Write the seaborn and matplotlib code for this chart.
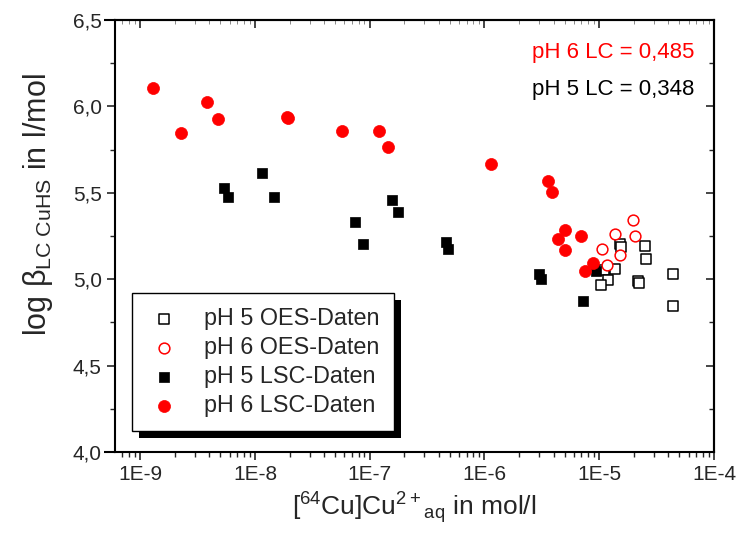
import numpy as np
import pandas as pd
import matplotlib
matplotlib.use('Agg')
import matplotlib.pyplot as plt
import matplotlib.ticker as mticker
from matplotlib.patches import Rectangle
import seaborn as sns

# pH 6 LSC (filled red circles)
ph6_lsc_cu = [1.3e-9, 2.28e-9, 3.8e-9, 4.77e-9, 1.9e-8, 1.92e-8, 5.7e-8, 1.2e-7, 1.43e-7,
              1.15e-6, 3.6e-6, 3.9e-6, 5.06e-6, 4.4e-6, 7.0e-6, 5.06e-6, 8.9e-6, 7.55e-6]
ph6_lsc_logb = [6.107, 5.846, 6.025, 5.927, 5.939, 5.93, 5.858, 5.858, 5.765,
                5.667, 5.568, 5.505, 5.285, 5.233, 5.25, 5.169, 5.094, 5.047]

# pH 5 LSC (filled black squares)
ph5_lsc_cu = [5.4e-9, 5.8e-9, 1.15e-8, 1.46e-8, 7.4e-8, 8.7e-8, 1.55e-7, 1.75e-7,
              4.6e-7, 4.77e-7, 3.0e-6, 3.13e-6, 7.26e-6, 9.4e-6]
ph5_lsc_logb = [5.528, 5.476, 5.615, 5.476, 5.331, 5.204, 5.458, 5.389,
                5.215, 5.175, 5.03, 5.001, 4.874, 5.047]

# pH 5 OES (open black squares)
ph5_oes_cu = [1.52e-5, 1.55e-5, 2.5e-5, 2.56e-5, 1.38e-5, 1.1e-5, 1.2e-5, 1.04e-5,
              2.18e-5, 2.2e-5, 4.4e-5, 4.4e-5]
ph5_oes_logb = [5.204, 5.186, 5.192, 5.117, 5.059, 5.053, 4.995, 4.967,
                4.99, 4.978, 5.03, 4.845]

# pH 6 OES (open red circles)
ph6_oes_cu = [1.98e-5, 1.38e-5, 2.06e-5, 1.06e-5, 1.52e-5, 1.17e-5]
ph6_oes_logb = [5.343, 5.262, 5.25, 5.175, 5.14, 5.082]

x_ticks = [1e-9, 1e-8, 1e-7, 1e-6, 1e-5, 1e-4]
x_ticklabels = ['1E-9', '1E-8', '1E-7', '1E-6', '1E-5', '1E-4']
y_ticks = [4.0, 4.5, 5.0, 5.5, 6.0, 6.5]
y_ticklabels = ['4,0', '4,5', '5,0', '5,5', '6,0', '6,5']
lc_labels = ['pH 6 LC = 0,485', 'pH 5 LC = 0,348']

sns.set_style('ticks')
plt.rcParams['font.family'] = ['Liberation Sans', 'DejaVu Sans']
plt.rcParams['mathtext.fontset'] = 'custom'
plt.rcParams['mathtext.rm'] = 'Liberation Sans'
plt.rcParams['mathtext.it'] = 'Liberation Sans'

fig = plt.figure(figsize=(7.4, 5.34), dpi=100)
ax = fig.add_axes([115 / 740, 1 - 452 / 534, (714 - 115) / 740, (452 - 20) / 534])

sns.scatterplot(x=ph5_oes_cu, y=ph5_oes_logb, marker='s', s=50, facecolor='white',
                edgecolor='black', linewidth=1.1, label='pH 5 OES-Daten', ax=ax, zorder=3)
sns.scatterplot(x=ph6_oes_cu, y=ph6_oes_logb, marker='o', s=60, facecolor='white',
                edgecolor='red', linewidth=1.1, label='pH 6 OES-Daten', ax=ax, zorder=3)
sns.scatterplot(x=ph5_lsc_cu, y=ph5_lsc_logb, marker='s', s=50, color='black',
                edgecolor='black', linewidth=0.5, label='pH 5 LSC-Daten', ax=ax, zorder=4)
sns.scatterplot(x=ph6_lsc_cu, y=ph6_lsc_logb, marker='o', s=75, color='red',
                edgecolor='red', linewidth=0.5, label='pH 6 LSC-Daten', ax=ax, zorder=4)

ax.set_xscale('log')
ax.set_xlim(10 ** -9.22, 1e-4)
ax.set_ylim(4.0, 6.5)

ax.set_xticks(x_ticks, x_ticklabels)
ax.xaxis.set_minor_locator(mticker.LogLocator(base=10, subs=np.arange(2, 10), numticks=10))
ax.xaxis.set_minor_formatter(mticker.NullFormatter())
ax.set_yticks(y_ticks, y_ticklabels)
ax.yaxis.set_minor_locator(mticker.MultipleLocator(0.25))

ax.tick_params(which='major', direction='out', length=6, width=1.2, labelsize=15)
ax.tick_params(which='minor', direction='out', length=3.5, width=1.0)
for sp in ax.spines.values():
    sp.set_linewidth(1.5)
    sp.set_color('black')

# top and bottom axis lines run a little past the left spine
for yy in (0, 1):
    ax.plot([-0.019, 0], [yy, yy], color='black', lw=1.5, transform=ax.transAxes,
            clip_on=False, solid_capstyle='butt')

# mirrored ticks on top/right, pointing in
top = ax.secondary_xaxis('top')
top.set_xscale('log')
top.set_xticks(x_ticks, [''] * len(x_ticks))
top.xaxis.set_minor_locator(mticker.LogLocator(base=10, subs=np.arange(2, 10), numticks=10))
top.xaxis.set_minor_formatter(mticker.NullFormatter())
top.tick_params(which='major', direction='in', length=6, width=1.2, labeltop=False)
top.tick_params(which='minor', direction='in', length=3, width=0.6, color='#777777', labeltop=False)
top.spines['top'].set_linewidth(1.5)
right = ax.secondary_yaxis('right')
right.set_yticks(y_ticks, [''] * len(y_ticks))
right.yaxis.set_minor_locator(mticker.MultipleLocator(0.25))
right.tick_params(which='major', direction='in', length=6, width=1.2, labelright=False)
right.tick_params(which='minor', direction='in', length=3.5, width=1.0, labelright=False)
right.spines['right'].set_linewidth(1.5)

ax.set_xlabel(r'[$^{64}$Cu]Cu$^{2+}$$_{\rm aq}$ in mol/l', fontsize=19, labelpad=4)
ax.set_ylabel(r'log $\beta_{\rm LC\ CuHS}$ in l/mol', fontsize=22)
ax.yaxis.set_label_coords(-0.10, 0.572)

ax.text(0.968, 0.925, lc_labels[0], transform=ax.transAxes, ha='right', va='center',
        fontsize=16, color='red')
ax.text(0.968, 0.84, lc_labels[1], transform=ax.transAxes, ha='right', va='center',
        fontsize=16, color='black')

leg = ax.legend(loc='upper left', bbox_to_anchor=(0.028, 0.368), frameon=True,
                fancybox=False, edgecolor='black', framealpha=1, fontsize=16.8,
                handletextpad=0.9, borderpad=0.6, labelspacing=0.26, handlelength=1.6,
                borderaxespad=0)
leg.get_frame().set_linewidth(1.0)
leg.set_zorder(10)

# solid black drop shadow behind the legend box
fig.canvas.draw()
bb = leg.get_window_extent()
inv = fig.transFigure.inverted()
(x0, y0), (x1, y1) = inv.transform([[bb.x0 + 7, bb.y0 - 7], [bb.x1 + 7, bb.y1 - 7]])
ax.add_patch(Rectangle((x0, y0), x1 - x0, y1 - y0, transform=fig.transFigure,
                       facecolor='black', edgecolor='none', zorder=9, clip_on=False))

fig.savefig('out.png', dpi=100)
